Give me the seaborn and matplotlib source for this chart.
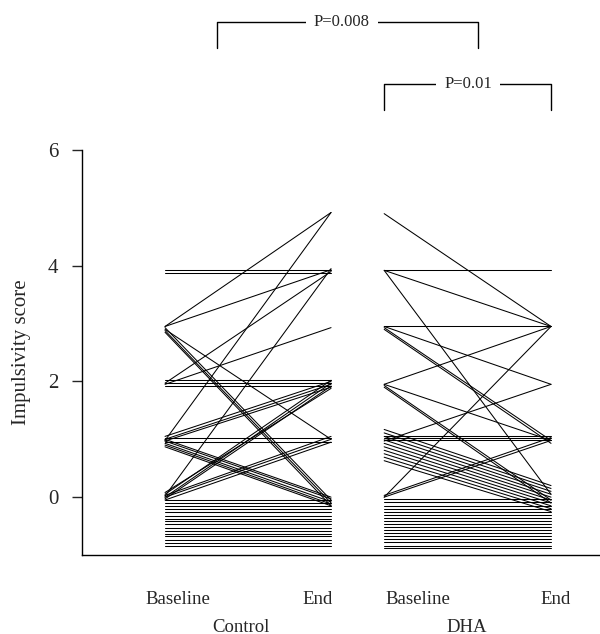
import numpy as np
import pandas as pd
import seaborn as sns
import matplotlib.pyplot as plt

# paired impulsivity scores (small offsets so tied lines stay visible)
ctrl_base = [3.92, 3.88, 2.95, 0.98, 2.95, 1.97, 0.02, 1.95, 2.02, 1.97, 1.92,
             2.90, 2.93, 2.88, 2.85, 1.05, 1.00, 0.97, 1.02, 0.95,
             1.00, 0.97, 0.93, 0.90, 0.87, 0.05, 0.00, -0.03, 0.08, 0.03, 0.00, -0.05]
ctrl_end = [3.92, 3.88, 4.92, 4.92, 3.93, 3.90, 3.95, 2.93, 2.02, 1.97, 1.92,
            1.00, -0.05, -0.10, -0.15, 2.00, 1.95, 1.90, 1.02, 0.95,
            0.00, -0.03, -0.08, -0.12, -0.15, 2.02, 1.97, 1.92, 1.88, 1.05, 1.00, 0.95]

dha_base = [4.90, 3.92, 3.92, 3.92, 2.95, 2.95, 2.93, 2.90, 1.95, 1.95, 1.93, 1.90,
            0.00, 1.17, 1.11, 1.05, 0.99, 0.93, 0.87, 0.81, 0.75, 0.69, 0.63,
            1.02, 0.98, 1.05, 0.97, 0.00, 0.03]
dha_end = [2.95, 3.92, 2.95, 0.05, 2.95, 1.95, 0.98, 0.93, 2.95, 0.98, -0.05, -0.10,
           2.95, 0.20, 0.15, 0.10, 0.05, 0.00, -0.05, -0.10, -0.15, -0.20, -0.25,
           1.02, 0.98, 1.05, 1.95, 0.98, 1.03]

# subjects scoring zero at both visits, stacked below the axis zero
ctrl_zero = [-0.05, -0.10, -0.16, -0.21, -0.26, -0.32, -0.37, -0.42, -0.47,
             -0.53, -0.58, -0.63, -0.68, -0.74, -0.79, -0.84]
dha_zero = [-0.04, -0.09, -0.15, -0.20, -0.25, -0.31, -0.36, -0.41, -0.47,
            -0.52, -0.57, -0.62, -0.68, -0.73, -0.78, -0.84, -0.88]

time_labels = ['Baseline', 'End', 'Baseline', 'End']
group_labels = ['Control', 'DHA']
p_values = ['P=0.008', 'P=0.01']

ctrl_base = ctrl_base + ctrl_zero
ctrl_end = ctrl_end + ctrl_zero
dha_base = dha_base + dha_zero
dha_end = dha_end + dha_zero

# x positions of the two visits for each group
pos = {'Control': (0.0, 1.0), 'DHA': (1.32, 2.325)}

rows = []
for grp, base, end in [('Control', ctrl_base, ctrl_end), ('DHA', dha_base, dha_end)]:
    for i, (b, e) in enumerate(zip(base, end)):
        rows.append({'subject': f'{grp}{i}', 'x': pos[grp][0], 'score': b})
        rows.append({'subject': f'{grp}{i}', 'x': pos[grp][1], 'score': e})
df = pd.DataFrame(rows)

sns.set_style('white')
plt.rcParams['font.family'] = ['Liberation Serif', 'DejaVu Serif']

fig = plt.figure(figsize=(6, 6.34), dpi=100)
ax = fig.add_axes([0.1367, 0.1246, 0.8633, 0.6388])

sns.lineplot(data=df, x='x', y='score', units='subject', estimator=None,
             color='black', linewidth=0.75, ax=ax, legend=False)

ax.set_xlim(-0.5, 2.62)
ax.set_ylim(-1, 6)
ax.set_yticks([0, 2, 4, 6])
ax.tick_params(axis='y', length=7, width=1, labelsize=15, pad=10, left=True)
ax.set_xticks([0.078, 0.92, 1.524, 2.355])
ax.set_xticklabels(time_labels, fontsize=13.5)
ax.tick_params(axis='x', length=0, pad=26)
ax.set_xlabel('')
ax.set_ylabel('Impulsivity score', fontsize=15, labelpad=12)

for s in ['top', 'right']:
    ax.spines[s].set_visible(False)
for s in ['left', 'bottom']:
    ax.spines[s].set_linewidth(1)
    ax.spines[s].set_color('black')

ax.text(0.46, -1.0 - 72 / 57.83, group_labels[0], ha='center', va='center', fontsize=13.5)
ax.text(1.82, -1.0 - 72 / 57.83, group_labels[1], ha='center', va='center', fontsize=13.5)

# significance brackets
def bracket(x1, x2, ytop, ybot, label, xt):
    ax.plot([x1, x1, x2, x2], [ybot, ytop, ytop, ybot], color='black',
            linewidth=1, clip_on=False)
    ax.text(xt, ytop, label, ha='center', va='center', fontsize=12,
            bbox=dict(facecolor='white', edgecolor='none', pad=6), clip_on=False)

bracket(0.313, 1.886, 8.21, 7.76, p_values[0], 1.066)
bracket(1.32, 2.325, 7.14, 6.69, p_values[1], 1.825)

fig.savefig('out.png', dpi=100)
